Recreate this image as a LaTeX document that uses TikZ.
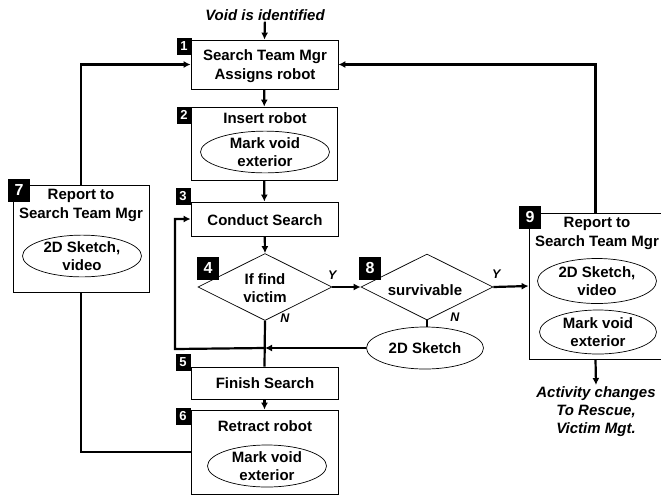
\documentclass[tikz,border=0pt]{standalone}
\usepackage{fontspec}
\setmainfont{Liberation Sans}
\usetikzlibrary{shapes.geometric,arrows.meta,calc,positioning}

\begin{document}
\begin{tikzpicture}[x=1pt,y=-1pt,
    box/.style={draw,line width=0.8pt,rectangle,inner sep=0pt},
    dia/.style={draw,line width=0.7pt,diamond,inner sep=0pt,minimum width=134pt,minimum height=67pt},
    txt/.style={align=center,inner sep=1pt,font=\bfseries\fontsize{15}{18.5}\selectfont},
    oval/.style={txt,draw,line width=0.7pt,ellipse,inner sep=0pt},
    badge/.style={fill=black,text=white,inner sep=0pt,font=\bfseries\fontsize{13}{13}\selectfont},
    bigbadge/.style={badge,minimum width=22pt,minimum height=23pt,font=\bfseries\fontsize{16}{16}\selectfont},
    yn/.style={font=\bfseries\itshape\fontsize{12.5}{12.5}\selectfont},
    link/.style={line width=2.2pt,-{Latex[length=7pt,width=7pt]}},
    wire/.style={line width=2.2pt}]
  \useasboundingbox (0,0) rectangle (661,496);
  \node[txt,font=\bfseries\itshape\fontsize{15}{18}\selectfont] (start) at (265,15) {Void is identified};
  \node[box,minimum width=147pt,minimum height=49pt] (box1) at (264.5,64.5) {};
  \node[txt] (t1) at (265,66) {Search Team Mgr\\Assigns robot};
  \node[box,minimum width=146pt,minimum height=73pt] (box2) at (264,143.5) {};
  \node[txt] (t2) at (265,118) {Insert robot};
  \node[oval,minimum width=129pt,minimum height=38pt] (e2) at (265,152) {Mark void\\exterior};
  \node[box,minimum width=147pt,minimum height=34pt] (box3) at (264.5,219) {};
  \node[txt] (t3) at (265,220) {Conduct Search};
  \node[dia] (d4) at (265,287) {};
  \node[txt] (t4) at (265,288) {If find\\victim};
  \node[dia,minimum width=132pt,minimum height=66pt] (d8) at (427,287) {};
  \node[txt] (t8) at (425,290) {survivable};
  \node[oval,minimum width=117pt,minimum height=42pt] (sk) at (425,348) {2D Sketch};
  \node[box,minimum width=147pt,minimum height=32pt] (box5) at (264.5,383) {};
  \node[txt] (t5) at (265,383) {Finish Search};
  \node[box,minimum width=147pt,minimum height=84pt] (box6) at (264.5,452) {};
  \node[txt] (t6) at (265,426) {Retract robot};
  \node[oval,minimum width=119pt,minimum height=42pt] (e6) at (267,466) {Mark void\\exterior};
  \node[box,minimum width=136pt,minimum height=107pt] (box7) at (81,238.5) {};
  \node[txt] (t7) at (81,205.5) {Report to\\Search Team Mgr};
  \node[oval,minimum width=119pt,minimum height=40pt] (e7) at (82,256) {2D Sketch,\\video};
  \node[box,minimum width=133pt,minimum height=146pt] (box9) at (595.5,286) {};
  \node[txt] (t9) at (597,233.5) {Report to\\Search Team Mgr};
  \node[oval,minimum width=119pt,minimum height=45pt] (e9a) at (597,281) {2D Sketch,\\video};
  \node[oval,minimum width=117pt,minimum height=44pt] (e9b) at (598,332) {Mark void\\exterior};
  \node[txt,anchor=north,font=\bfseries\itshape\fontsize{15}{18}\selectfont] (fin) at (596,385) {Activity changes\\To Rescue,\\Victim Mgt.};
  \node[badge,minimum width=15pt,minimum height=17pt] (b1) at (184,46.5) {1};
  \node[badge,minimum width=15pt,minimum height=17pt] (b2) at (184,115) {2};
  \node[badge,minimum width=15pt,minimum height=17pt] (b3) at (183,196) {3};
  \node[bigbadge] (b4) at (208,268) {4};
  \node[badge,minimum width=15pt,minimum height=17pt] (b5) at (183,362) {5};
  \node[badge,minimum width=15pt,minimum height=17pt] (b6) at (183,416) {6};
  \node[bigbadge] (b7) at (19,190) {7};
  \node[bigbadge] (b8) at (370,268) {8};
  \node[bigbadge] (b9) at (530,217) {9};
  \draw[link] (start) -- (box1.north);
  \draw[link] (box1) -- (box2);
  \draw[link] (box2) -- (box3);
  \draw[link] (box3) -- (d4.north);
  \draw[link] (d4.east) -- (d8.west) node[yn,pos=0,above=3pt] {Y};
  \draw[link] (d8.east) -- (box9.west) node[yn,pos=0,above=4pt,xshift=3pt] {Y};
  \node[yn] (n4) at ($(d4.south)+(20,-3)$) {N};
  \node[yn] (n8) at ($(d8.south)+(28,-3)$) {N};
  \draw[line width=1.5pt] (d8.south) -- (d8.south |- sk.north);
  \coordinate (j) at (d4.south |- sk.west);
  \coordinate (lp) at (175,349);
  \draw[link] (sk.west) -- (j);
  \draw[wire] (d4.south) -- (box5.north);
  \draw[link] (j) -- (lp) -- (lp |- box3.west) -- (box3.west);
  \draw[link] (box5) -- (box6);
  \draw[wire] (box6.west) -- (box7.south |- box6.west) -- (box7.south);
  \draw[link] (box7.north) -- (box7.north |- box1.west) -- (box1.west);
  \draw[link] (box9.north) -- (box9.north |- box1.east) -- (box1.east);
  \draw[link] (box9.south) -- (fin.north);
\end{tikzpicture}
\end{document}
